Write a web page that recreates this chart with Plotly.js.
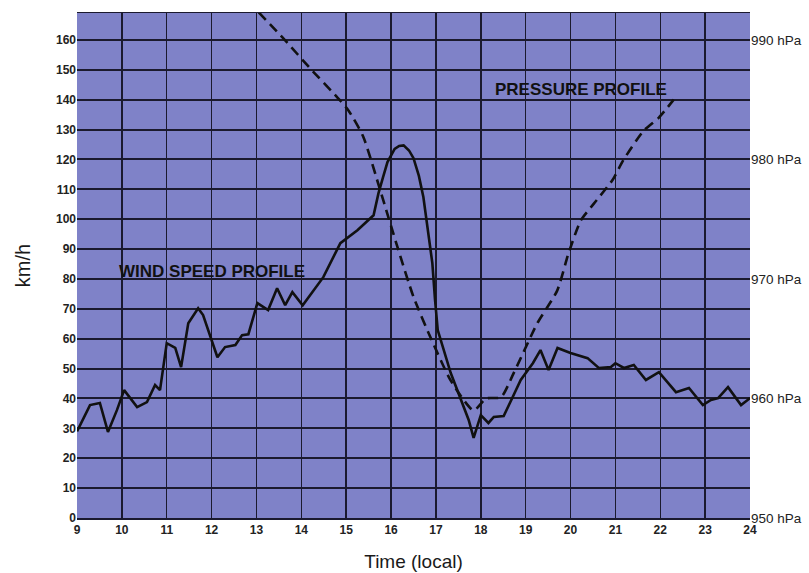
<!DOCTYPE html>
<html>
<head>
<meta charset="utf-8">
<script src="https://cdn.plot.ly/plotly-3.0.1.min.js"></script>
<style>html,body{margin:0;padding:0;background:#fff;}#chart{width:809px;height:573px;}</style>
</head>
<body>
<div id="chart"></div>
<script>
// Wind speed profile (km/h) vs local time (h)
const windTime = [9.0, 9.29, 9.51, 9.69, 9.89, 10.05, 10.34, 10.56, 10.74, 10.85, 11.0, 11.19, 11.32, 11.48, 11.70, 11.81, 12.13, 12.30, 12.53, 12.68, 12.82, 13.02, 13.26, 13.46, 13.64, 13.80, 14.03, 14.49, 14.87, 15.25, 15.61, 15.72, 15.82, 15.92, 16.08, 16.18, 16.28, 16.4, 16.5, 16.62, 16.72, 16.82, 16.92, 16.98, 17.04, 17.33, 17.73, 17.84, 18.0, 18.17, 18.29, 18.51, 18.89, 19.16, 19.33, 19.51, 19.71, 20.0, 20.38, 20.63, 20.9, 21.0, 21.19, 21.41, 21.68, 21.97, 22.35, 22.64, 22.95, 23.13, 23.29, 23.51, 23.80, 24.0];
const windSpeed = [29, 37.8, 38.5, 28.8, 36.1, 42.8, 37.1, 38.8, 44.5, 42.8, 58.5, 56.9, 50.5, 65.2, 70.2, 67.9, 53.8, 57.2, 57.9, 61.2, 61.5, 71.9, 69.6, 76.9, 71.2, 75.6, 71.2, 80.6, 92.0, 96.3, 101.3, 108.7, 114, 119.1, 123.5, 124.5, 124.7, 123, 120.4, 114.5, 107.4, 97, 85.3, 73, 62.9, 48.5, 32.8, 26.8, 34.4, 31.8, 33.8, 34.1, 46.2, 51.8, 56.2, 49.5, 56.9, 55.2, 53.5, 50.2, 50.5, 51.8, 50.2, 51.2, 46.2, 48.8, 42.1, 43.5, 37.8, 39.5, 40.1, 43.8, 37.8, 40.1];

// Pressure profile (hPa) vs local time (h)
const pressTime = [13.05, 13.63, 14.2, 14.8, 15.05, 15.38, 15.76, 16.14, 16.5, 16.88, 17.33, 17.84, 18.12, 18.45, 18.73, 19.26, 19.7, 19.96, 20.23, 20.52, 20.94, 21.17, 21.63, 21.97, 22.3];
const pressure = [992.3, 990, 987.6, 985.2, 984.1, 981.9, 977.4, 972.7, 968.5, 965.1, 961.5, 959.0, 960.0, 960.1, 962.1, 966.3, 969.0, 972.2, 974.9, 976.3, 978.3, 979.9, 982.4, 983.5, 985.0];

const xTicks = [9,10,11,12,13,14,15,16,17,18,19,20,21,22,23,24];
const yTicks = [0,10,20,30,40,50,60,70,80,90,100,110,120,130,140,150,160];
const pTicks = [950, 960, 970, 980, 990];
const pLabels = ["950 hPa", "960 hPa", "970 hPa", "980 hPa", "990 hPa"];

const yMax = 169;
const pMin = 950, pMax = 950 + yMax / 4;

const traces = [
  {x: windTime, y: windSpeed, type: 'scatter', mode: 'lines', name: 'Wind speed',
   line: {color: '#111', width: 2.6}, yaxis: 'y'},
  {x: pressTime, y: pressure, type: 'scatter', mode: 'lines', name: 'Pressure',
   line: {color: '#111', width: 2.6, dash: '10px,6px', shape: 'spline', smoothing: 0.6}, yaxis: 'y2'}
];

const font = 'Liberation Sans, Arial, sans-serif';
const layout = {
  width: 809, height: 573,
  margin: {l: 77, r: 59, t: 13, b: 55},
  paper_bgcolor: '#ffffff',
  plot_bgcolor: '#7f82c8',
  showlegend: false,
  font: {family: font, color: '#1a1a1a'},
  xaxis: {
    range: [9, 24], tickvals: xTicks, ticktext: xTicks.map(String),
    showgrid: true, gridcolor: '#1b1a2e', gridwidth: 1.5,
    zeroline: false, showline: true, linecolor: '#1b1a2e', linewidth: 1.5, mirror: true,
    ticks: '', ticklen: 0,
    tickfont: {size: 12, family: font, color: '#222', weight: 'bold'},
    title: {text: 'Time (local)', font: {size: 19, family: font, color: '#1a1a1a'}, standoff: 19}
  },
  yaxis: {
    range: [0, yMax], tickvals: yTicks, ticktext: yTicks.map(String),
    showgrid: true, gridcolor: '#1b1a2e', gridwidth: 2,
    zeroline: false, showline: false, ticks: '',
    tickfont: {size: 12, family: font, color: '#222', weight: 'bold'},
    title: {text: 'km/h', font: {size: 20, family: font, color: '#1a1a1a'}, standoff: 19}
  },
  yaxis2: {
    range: [pMin, pMax], overlaying: 'y', side: 'right',
    tickvals: pTicks, ticktext: pLabels, showgrid: false, zeroline: false, ticks: '',
    tickfont: {size: 13.5, family: font, color: '#222'}
  },
  annotations: [
    {x: 12.0, y: 82.6, xref: 'x', yref: 'y', text: 'WIND SPEED PROFILE', showarrow: false,
     font: {size: 17, family: font, color: '#111', weight: 'bold'}},
    {x: 20.23, y: 143.5, xref: 'x', yref: 'y', text: 'PRESSURE PROFILE', showarrow: false,
     font: {size: 17, family: font, color: '#111', weight: 'bold'}}
  ]
};

Plotly.newPlot('chart', traces, layout, {displayModeBar: false, staticPlot: true});
</script>
</body>
</html>
